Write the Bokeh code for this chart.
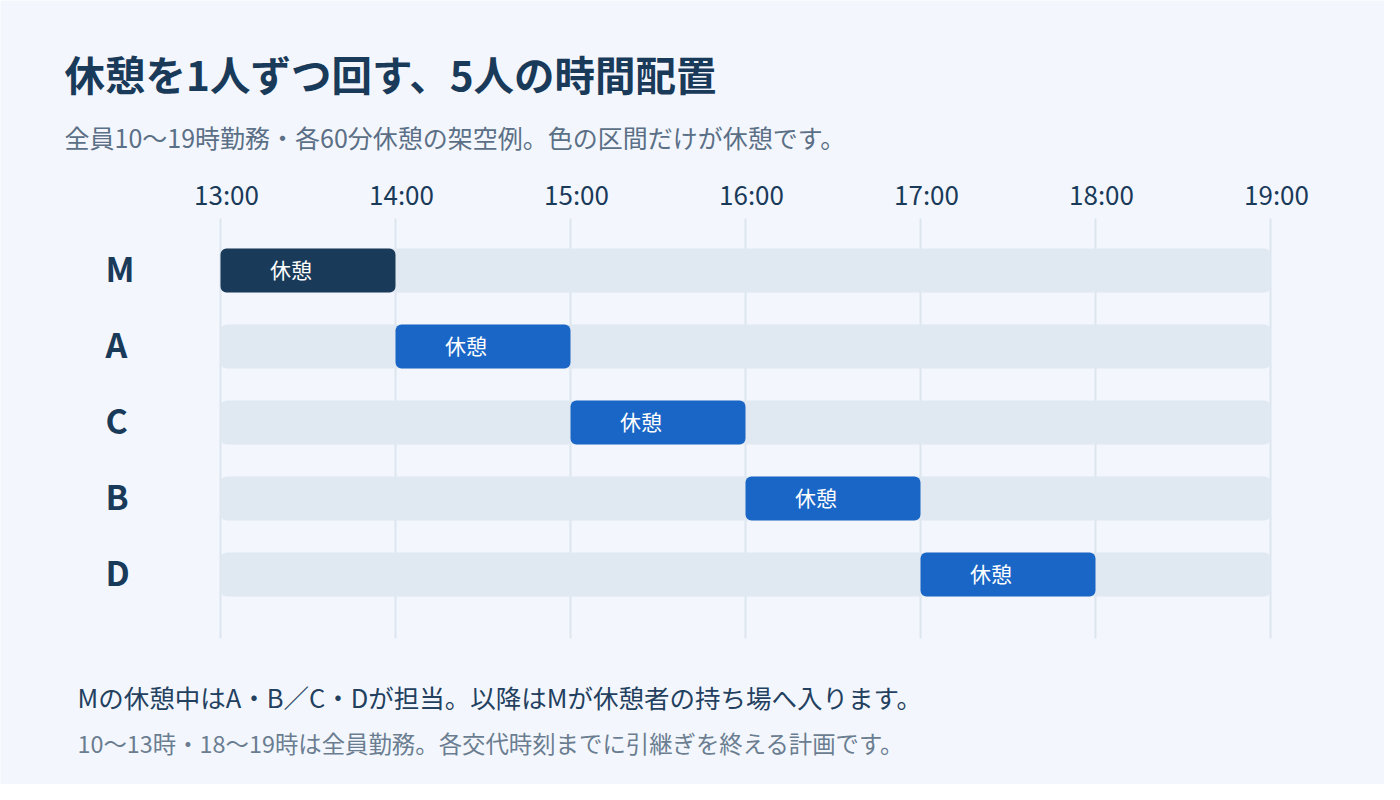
from bokeh.plotting import figure
from bokeh.models import Range1d, Label, ColumnDataSource
from bokeh.core.properties import value
from bokeh.embed import file_html
from bokeh.resources import INLINE

# ---- data ----
members = ["M", "A", "C", "B", "D"]
track_start = [13, 13, 13, 13, 13]
track_end = [19, 19, 19, 19, 19]
break_start = [13, 14, 15, 16, 17]
break_end = [14, 15, 16, 17, 18]
break_label = ["休憩", "休憩", "休憩", "休憩", "休憩"]
tick_hours = [13, 14, 15, 16, 17, 18, 19]
tick_labels = ["13:00", "14:00", "15:00", "16:00", "17:00", "18:00", "19:00"]

title_text = "休憩を1人ずつ回す、5人の時間配置"
subtitle_text = "全員10〜19時勤務・各60分休憩の架空例。色の区間だけが休憩です。"
note1_text = "Mの休憩中はA・B／C・Dが担当。以降はMが休憩者の持ち場へ入ります。"
note2_text = "10〜13時・18〜19時は全員勤務。各交代時刻までに引継ぎを終える計画です。"

# ---- layout / style ----
W, H = 1384, 784
X0_PX, PX_PER_HOUR = 220, 175      # pixel of first tick, pixels per hour
Y0_PX, PX_PER_ROW = 270, 76        # pixel of first row centre, pixels per row
FONT = "Noto Sans CJK JP"
BG = "#f3f7fd"
NAVY = "#1a3a5a"
BLUE = "#1a66c6"

x0 = tick_hours[0]
x_range = Range1d(x0 - X0_PX / PX_PER_HOUR, x0 + (W - X0_PX) / PX_PER_HOUR)
y_range = Range1d((H - Y0_PX) / PX_PER_ROW, -Y0_PX / PX_PER_ROW)

def ypx(py):  # pixel row -> data y
    return (py - Y0_PX) / PX_PER_ROW

def xpx(px):
    return x0 + (px - X0_PX) / PX_PER_HOUR

p = figure(width=W, height=H, output_backend="svg", toolbar_location=None,
           x_range=x_range, y_range=y_range,
           x_axis_location=None, y_axis_location=None,
           min_border=0, min_border_left=0, min_border_right=0,
           min_border_top=0, min_border_bottom=0)
p.background_fill_color = BG
p.border_fill_color = BG
p.outline_line_color = None
p.xgrid.visible = False
p.ygrid.visible = False

rows = list(range(len(members)))
colors = [NAVY if m == "M" else BLUE for m in members]
mids = [(s + e) / 2 for s, e in zip(break_start, break_end)]

# vertical grid lines
p.segment(x0=tick_hours, x1=tick_hours,
          y0=[ypx(218)] * len(tick_hours), y1=[ypx(638)] * len(tick_hours),
          line_color="#dde5ee", line_width=2)

# tick labels (top)
p.text(x=tick_hours, y=[ypx(193)] * len(tick_hours), text=tick_labels,
       text_font=value(FONT), text_font_size="26px", text_color=NAVY,
       text_align="center", text_baseline="middle", x_offset=6)

# member labels
p.text(x=[xpx(105)] * len(members), y=rows, text=members,
       text_font=value(FONT), text_font_size="34px", text_font_style="bold",
       text_color=NAVY, text_align="left", text_baseline="middle", y_offset=-3)

src = ColumnDataSource(dict(y=rows, ts=track_start, te=track_end, bs=break_start,
                            be=break_end, c=colors, mid=mids, lab=break_label))

p.hbar(y="y", left="ts", right="te", height=44 / PX_PER_ROW, source=src,
       fill_color="#e0e8f1", line_color=None, border_radius=6)
p.hbar(y="y", left="bs", right="be", height=44 / PX_PER_ROW, source=src,
       fill_color="c", line_color=None, border_radius=6)
p.text(x="mid", y="y", text="lab", source=src, text_color="white",
       text_font=value(FONT), text_font_size="21px", text_align="center",
       text_baseline="middle", x_offset=-17, y_offset=-2)

def add_label(txt, px, py, size, color, bold=False):
    p.add_layout(Label(x=px, y=H - py, x_units="screen", y_units="screen", text=txt,
                       text_font=FONT, text_font_size=size, text_color=color,
                       text_font_style="bold" if bold else "normal",
                       text_baseline="middle", text_align="left"))

add_label(title_text, 64, 73, "40.5px", NAVY, bold=True)
add_label(subtitle_text, 64, 136, "25px", "#5b6f86")
add_label(note1_text, 77, 696, "25.5px", "#23405f")
add_label(note2_text, 77, 742, "23.4px", "#6b7d90")

open("out.html", "w").write(file_html(p, INLINE))
